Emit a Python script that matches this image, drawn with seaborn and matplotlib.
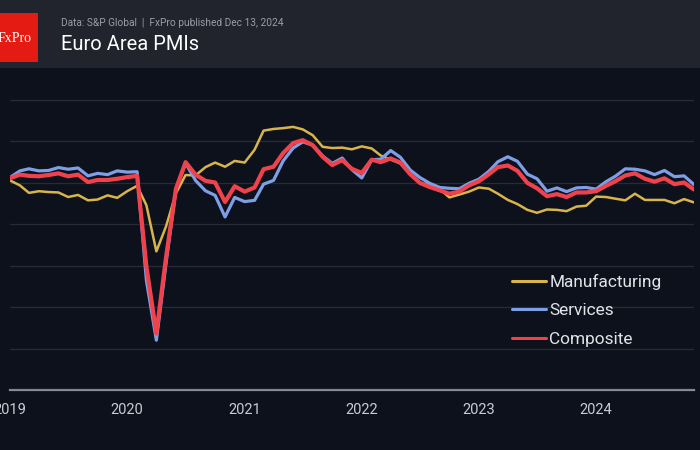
import matplotlib
matplotlib.use("Agg")
import matplotlib.pyplot as plt
import matplotlib.dates as mdates
from matplotlib.patches import Rectangle
import numpy as np
import pandas as pd
import seaborn as sns

# ---- data (monthly, Jan 2019 - Nov 2024) ----
manufacturing = [
    50.5, 49.3, 47.5, 47.9, 47.7, 47.6, 46.5, 47.0, 45.7, 45.9, 46.9, 46.3,
    47.9, 49.2, 44.5, 33.4, 39.4, 47.4, 51.8, 51.7, 53.7, 54.8, 53.8, 55.2,
    54.8, 57.9, 62.5, 62.9, 63.1, 63.4, 62.8, 61.4, 58.6, 58.3, 58.4, 58.0,
    58.7, 58.2, 56.5, 55.5, 54.6, 52.1, 49.8, 49.6, 48.4, 46.4, 47.1, 47.8,
    48.8, 48.5, 47.3, 45.8, 44.8, 43.4, 42.7, 43.5, 43.4, 43.1, 44.2, 44.4,
    46.6, 46.5, 46.1, 45.7, 47.3, 45.8, 45.8, 45.8, 45.0, 46.0, 45.2,
]
services = [
    51.2, 52.8, 53.3, 52.8, 52.9, 53.6, 53.2, 53.5, 51.6, 52.2, 51.9, 52.8,
    52.5, 52.6, 26.4, 12.0, 30.5, 48.3, 54.7, 50.5, 48.0, 46.9, 41.7, 46.4,
    45.4, 45.7, 49.6, 50.5, 55.2, 58.3, 59.8, 59.0, 56.4, 54.6, 55.9, 53.1,
    51.1, 55.5, 55.6, 57.7, 56.1, 53.0, 51.2, 49.8, 48.8, 48.6, 48.5, 49.8,
    50.8, 52.7, 55.0, 56.2, 55.1, 52.0, 50.9, 47.9, 48.7, 47.8, 48.7, 48.8,
    48.4, 50.2, 51.5, 53.3, 53.2, 52.8, 51.9, 52.9, 51.4, 51.6, 49.5,
]
composite = [
    51.0, 51.9, 51.6, 51.5, 51.8, 52.2, 51.5, 51.9, 50.1, 50.6, 50.6, 50.9,
    51.3, 51.6, 29.7, 13.6, 31.9, 48.5, 54.9, 51.9, 50.4, 50.0, 45.3, 49.1,
    47.8, 48.8, 53.2, 53.8, 57.1, 59.5, 60.2, 59.0, 56.2, 54.2, 55.4, 53.3,
    52.3, 55.5, 54.9, 55.8, 54.8, 52.0, 49.9, 48.9, 48.1, 47.3, 47.8, 49.3,
    50.3, 52.0, 53.7, 54.1, 52.8, 49.9, 48.6, 46.7, 47.2, 46.5, 47.6, 47.6,
    47.9, 49.2, 50.3, 51.7, 52.2, 50.9, 50.2, 51.0, 49.6, 50.0, 48.3,
]
series_names = ["Manufacturing", "Services", "Composite"]
series_colors = ["#d8b44a", "#7e9fe6", "#f0424c"]
series_widths = [1.8, 2.3, 3.0]

dates = pd.date_range("2019-01-01", periods=len(composite), freq="MS")
df = pd.DataFrame({"date": dates, "Manufacturing": manufacturing,
                   "Services": services, "Composite": composite})
long_df = df.melt(id_vars="date", var_name="series", value_name="value")

# ---- style ----
BG = "#0c111c"
HEADER = "#21242d"
sns.set_theme(style="dark")
plt.rcParams["font.family"] = ["Roboto", "DejaVu Sans"]

fig = plt.figure(figsize=(7, 4.5), dpi=100, facecolor=BG)
fig.patches.append(Rectangle((0, 382 / 450), 1, 68 / 450, transform=fig.transFigure,
                             facecolor=HEADER, edgecolor="none", zorder=0))
fig.patches.append(Rectangle((0, (450 - 62) / 450), 38 / 700, 49 / 450,
                             transform=fig.transFigure, facecolor="#e31b13",
                             edgecolor="none", zorder=1))
fig.text(15 / 700, (450 - 42) / 450, "FxPro", color="white", ha="center",
         va="baseline", fontsize=10, family=["Liberation Serif", "DejaVu Serif"])
fig.text(61 / 700, (450 - 26) / 450, "Data: S&P Global  |  FxPro published Dec 13, 2024",
         color="#9a9da4", fontsize=7.3, ha="left", va="baseline")
fig.text(61 / 700, (450 - 50) / 450, "Euro Area PMIs", color="white",
         fontsize=14.5, ha="left", va="baseline")

ax = fig.add_axes([10 / 700, 60 / 450, 684 / 700, (390 - 74.6) / 450])
ax.set_facecolor(BG)

for name, col, lw in zip(series_names, series_colors, series_widths):
    sub = long_df[long_df["series"] == name]
    sns.lineplot(data=sub, x="date", y="value", ax=ax, color=col, linewidth=lw,
                 label=name, solid_joinstyle="round")

ax.set_xlim(dates[0], dates[-1])
ax.set_ylim(0, 76)
ax.set_yticks(np.arange(0, 80, 10))
ax.set_yticklabels([])
ax.grid(axis="y", color="#262b37", linewidth=0.9)
ax.grid(axis="x", visible=False)
ax.tick_params(axis="y", length=0)
ax.tick_params(axis="x", length=0, pad=9, labelsize=10.5, labelcolor="#c9ccd3")
ax.xaxis.set_major_locator(mdates.YearLocator())
ax.xaxis.set_major_formatter(mdates.DateFormatter("%Y"))
ax.set_xlabel("")
ax.set_ylabel("")
for s in ["top", "right", "left"]:
    ax.spines[s].set_visible(False)
ax.spines["bottom"].set_color("#8b8e97")
ax.spines["bottom"].set_linewidth(1.6)
ax.spines["bottom"].set_zorder(0.5)

leg = ax.legend(loc="upper left", bbox_to_anchor=(512 / 700, (450 - 273.5) / 450),
                bbox_transform=fig.transFigure, frameon=False, fontsize=12.4,
                handlelength=1.95, handletextpad=0.22, labelspacing=0.8,
                borderpad=0, borderaxespad=0)
for t in leg.get_texts():
    t.set_color("#e2e4e8")
for h in leg.get_lines():
    h.set_linewidth(2.2)

fig.savefig("out.png", dpi=100, facecolor=BG)
